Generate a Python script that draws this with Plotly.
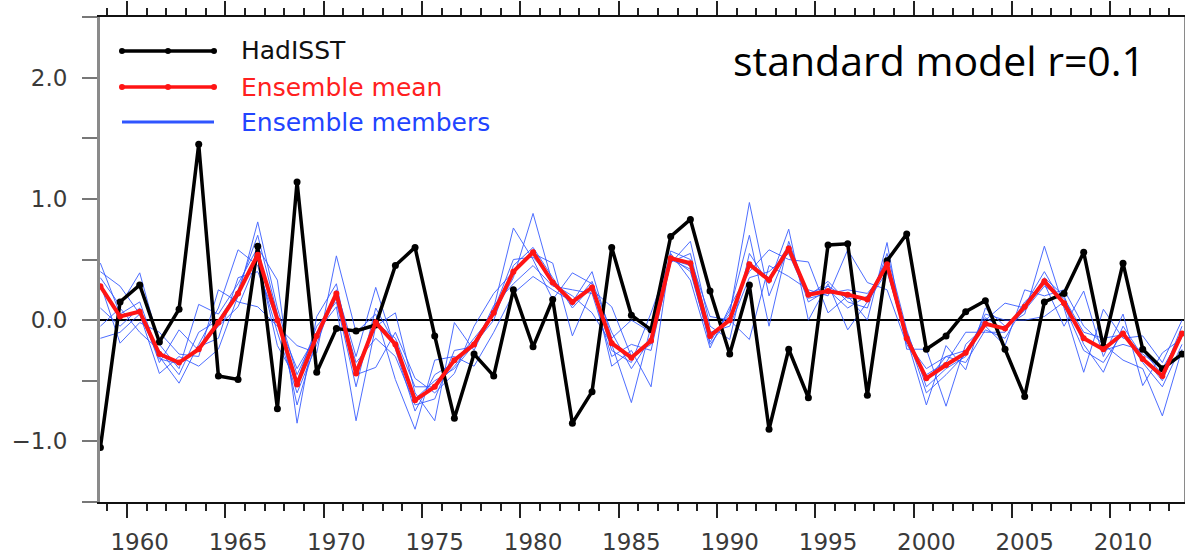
import plotly.graph_objects as go

# ---------------- data ----------------
years = list(range(1958, 2014))
year_offset = 0.65  # values are plotted part-way through each year

hadisst = [-1.05, 0.15, 0.29, -0.18, 0.09, 1.45, -0.46, -0.49, 0.61, -0.73,
           1.14, -0.43, -0.07, -0.09, -0.04, 0.45, 0.60, -0.13, -0.81, -0.28,
           -0.46, 0.25, -0.22, 0.17, -0.85, -0.59, 0.60, 0.04, -0.08, 0.69,
           0.83, 0.24, -0.28, 0.29, -0.90, -0.24, -0.64, 0.62, 0.63, -0.62,
           0.49, 0.71, -0.24, -0.13, 0.07, 0.16, -0.24, -0.63, 0.15, 0.22,
           0.56, -0.22, 0.47, -0.24, -0.40, -0.28]

ens_mean = [0.28, 0.03, 0.07, -0.28, -0.35, -0.24, -0.02, 0.22, 0.54, 0.00,
            -0.53, -0.13, 0.22, -0.44, -0.02, -0.20, -0.66, -0.55, -0.33, -0.20,
            0.06, 0.40, 0.56, 0.31, 0.15, 0.27, -0.19, -0.31, -0.17, 0.51,
            0.47, -0.13, 0.00, 0.46, 0.33, 0.59, 0.21, 0.24, 0.21, 0.17,
            0.46, -0.15, -0.48, -0.37, -0.27, -0.03, -0.07, 0.11, 0.32, 0.14,
            -0.15, -0.24, -0.11, -0.32, -0.46, -0.11]

member_1 = [0.47, 0.05, 0.15, -0.30, -0.52, -0.20, 0.10, 0.58, 0.45, -0.10,
            -0.60, -0.20, 0.25, -0.30, 0.27, -0.25, -0.75, -0.45, -0.35, -0.15,
            0.05, 0.35, 0.88, 0.30, 0.20, 0.06, -0.20, -0.68, -0.05, 0.50,
            0.45, -0.15, 0.05, 0.97, 0.20, 0.60, 0.15, 0.25, 0.10, 0.20,
            0.45, -0.10, -0.50, -0.30, -0.25, 0.00, 0.14, 0.10, 0.35, 0.20,
            -0.20, -0.43, -0.05, -0.30, -0.50, -0.10]
member_2 = [0.40, 0.28, 0.05, -0.44, -0.30, -0.38, -0.24, 0.20, 0.81, 0.10,
            -0.45, -0.10, 0.11, -0.83, -0.05, 0.06, -0.60, -0.83, -0.02, -0.25,
            0.10, 0.76, 0.50, 0.17, 0.39, 0.30, -0.38, -0.25, -0.55, 0.55,
            0.33, -0.23, 0.11, 0.40, 0.58, 0.50, 0.48, 0.06, 0.20, 0.00,
            0.64, -0.24, -0.24, -0.71, -0.20, -0.05, -0.21, 0.25, 0.20, 0.25,
            -0.05, -0.20, -0.33, -0.40, -0.79, -0.24]
member_3 = [0.35, 0.12, 0.39, -0.20, -0.40, 0.13, 0.05, 0.30, 0.60, 0.33,
            -0.85, 0.03, 0.30, -0.45, -0.39, -0.10, -0.48, -0.60, -0.44, -0.05,
            0.22, 0.40, 0.55, 0.47, -0.13, 0.25, 0.11, -0.30, -0.20, 0.47,
            0.65, -0.05, -0.16, 0.55, 0.30, 0.75, 0.00, 0.30, -0.08, 0.15,
            0.40, -0.15, -0.70, -0.21, -0.41, 0.10, -0.05, 0.05, 0.61, 0.10,
            -0.43, 0.09, -0.15, -0.13, -0.35, 0.00]
member_4 = [0.30, -0.19, -0.02, -0.10, -0.28, -0.30, 0.25, 0.15, 0.11, -0.05,
            -0.21, -0.27, 0.53, -0.10, 0.05, -0.49, -0.90, -0.33, -0.30, -0.38,
            -0.10, 0.22, 0.36, 0.25, 0.15, 0.40, -0.15, 0.00, -0.10, 0.57,
            0.50, 0.03, 0.00, -0.16, 0.45, 0.36, 0.25, 0.20, 0.58, 0.31,
            0.25, -0.20, -0.45, -0.35, -0.10, -0.10, -0.10, 0.15, 0.30, -0.05,
            0.24, -0.30, 0.05, -0.54, -0.27, -0.15]
member_5 = [0.10, -0.05, 0.10, -0.35, -0.08, -0.25, -0.05, 0.11, 0.50, -0.21,
            -0.50, -0.05, 0.15, -0.55, 0.10, -0.20, -0.65, -0.50, -0.40, -0.20,
            0.00, 0.45, 0.60, 0.35, 0.10, 0.28, -0.25, -0.35, 0.06, 0.52,
            0.40, -0.18, 0.08, 0.70, -0.05, 0.65, 0.20, 0.32, 0.15, 0.10,
            0.55, -0.08, -0.55, -0.40, -0.30, 0.05, 0.00, 0.00, 0.03, 0.15,
            -0.15, -0.25, -0.20, -0.25, -0.45, -0.05]
member_6 = [-0.05, 0.10, -0.10, -0.25, -0.45, -0.10, 0.00, 0.25, 0.70, 0.05,
            -0.70, -0.15, 0.20, -0.35, -0.15, -0.30, -0.70, -0.65, -0.25, -0.22,
            0.12, 0.30, 0.45, 0.28, 0.25, 0.22, -0.30, -0.20, -0.25, 0.48,
            0.55, -0.10, -0.05, 0.35, 0.40, 0.55, 0.18, 0.22, 0.25, 0.22,
            0.42, -0.18, -0.40, -0.30, -0.35, -0.08, -0.15, 0.12, 0.40, 0.12,
            -0.25, -0.35, -0.10, -0.35, -0.55, -0.20]
member_7 = [-0.15, -0.10, 0.05, -0.32, -0.36, -0.22, -0.15, 0.35, 0.40, 0.00,
            -0.40, -0.12, 0.18, -0.40, -0.02, -0.15, -0.55, -0.55, -0.38, -0.18,
            0.08, 0.50, 0.52, 0.33, 0.12, 0.32, -0.10, -0.40, -0.15, 0.50,
            0.42, -0.20, 0.02, 0.45, 0.35, 0.62, 0.22, 0.28, 0.18, 0.18,
            0.50, -0.12, -0.60, -0.45, -0.28, 0.02, -0.08, 0.08, 0.28, 0.18,
            -0.10, -0.15, -0.12, -0.28, -0.40, -0.12]
members = [member_1, member_2, member_3, member_4, member_5, member_6, member_7]

year_ticks = list(range(1960, 2011, 5))
legend_labels = ["HadISST", "Ensemble mean", "Ensemble members"]
annotation_text = "standard model r=0.1"

# ---------------- figure ----------------
x = [y + year_offset for y in years]
BLACK = "#000000"
RED = "#ff1414"
BLUE = "#2f55ff"

fig = go.Figure()
for m in members:
    fig.add_trace(go.Scatter(x=x, y=m, mode="lines",
                             line=dict(color=BLUE, width=1), opacity=0.85,
                             showlegend=False, hoverinfo="skip"))
fig.add_trace(go.Scatter(x=x, y=hadisst, mode="lines+markers", xaxis="x2",
                         line=dict(color=BLACK, width=3.5),
                         marker=dict(color=BLACK, size=7), showlegend=False))
fig.add_trace(go.Scatter(x=x, y=ens_mean, mode="lines+markers", xaxis="x2",
                         line=dict(color=RED, width=4),
                         marker=dict(color=RED, size=6), showlegend=False))

L, R, T, B = 100, 1, 17, 54
W, H = 1185, 556
pw, ph = W - L - R, H - T - B


def px(xp):
    return (xp - L) / pw


def py(yp):
    return (H - B - yp) / ph


shapes = []
annotations = []
leg = [(51, BLACK, True, "#111111"), (87, RED, True, "#ff2020"), (122, BLUE, False, "#2244ff")]
for (yp, col, mk, tcol), lab in zip(leg, legend_labels):
    shapes.append(dict(type="line", xref="paper", yref="paper",
                       x0=px(122), x1=px(214), y0=py(yp), y1=py(yp),
                       line=dict(color=col, width=3.5 if mk else 3)))
    if mk:
        for xp in (122, 168, 214):
            shapes.append(dict(type="circle", xref="paper", yref="paper",
                               xsizemode="pixel", ysizemode="pixel",
                               xanchor=px(xp), yanchor=py(yp),
                               x0=-3, x1=3, y0=-3, y1=3,
                               fillcolor=col, line=dict(width=0)))
    annotations.append(dict(text=lab, xref="paper", yref="paper",
                            x=px(239), y=py(yp), xanchor="left", yanchor="middle",
                            showarrow=False,
                            font=dict(family="DejaVu Sans", size=25, color=tcol)))

annotations.append(dict(text=annotation_text, xref="paper", yref="paper",
                        x=px(1147), y=py(60), xanchor="right", yanchor="middle",
                        showarrow=False,
                        font=dict(family="Open Sans", size=41, color="#000000")))

tickfont = dict(family="DejaVu Sans", size=23, color="#3a3a3a")
xrange = [1958.63, 2013.75]

fig.update_layout(
    template="none",
    width=W, height=H,
    margin=dict(l=L, r=R, t=T, b=B, pad=0),
    plot_bgcolor="white", paper_bgcolor="white",
    shapes=shapes, annotations=annotations,
    showlegend=False,
    # tick marks (integer years) without labels
    xaxis=dict(range=xrange, tickmode="array", tickvals=year_ticks,
               showticklabels=False, automargin=False,
               ticks="outside", ticklen=14, tickwidth=2, tickcolor="#222222",
               showline=True, linecolor="#111111", linewidth=2, mirror="allticks",
               showgrid=False, zeroline=False,
               minor=dict(tick0=1958, dtick=1, ticks="outside", ticklen=7,
                          tickwidth=1.5, tickcolor="#222222", showgrid=False)),
    # year labels, placed at the data position within each labelled year
    xaxis2=dict(matches="x", overlaying="x", anchor="y", side="bottom",
                range=xrange, tickmode="array",
                tickvals=[v + year_offset for v in year_ticks],
                ticktext=[str(v) for v in year_ticks],
                ticks="", showline=False, showgrid=False, zeroline=False,
                automargin=False, tickfont=tickfont, ticklabelstandoff=24),
    yaxis=dict(range=[-1.5, 2.5], tick0=0, dtick=1, tickformat=".1f", automargin=False,
               ticks="outside", ticklen=15, tickwidth=2, tickcolor="#777777",
               showline=True, linecolor="#8a8a8a", linewidth=3, mirror="allticks",
               showgrid=False, zeroline=True, zerolinecolor="#000000", zerolinewidth=1.5,
               tickfont=tickfont, ticklabelstandoff=10,
               minor=dict(tick0=0, dtick=0.5, ticks="outside", ticklen=15,
                          tickwidth=2, tickcolor="#777777", showgrid=False)),
)

fig.write_html(
    "out.html",
    config={"displayModeBar": False},
    post_script="document.body.style.margin='0';document.body.style.overflow='hidden';",
)
